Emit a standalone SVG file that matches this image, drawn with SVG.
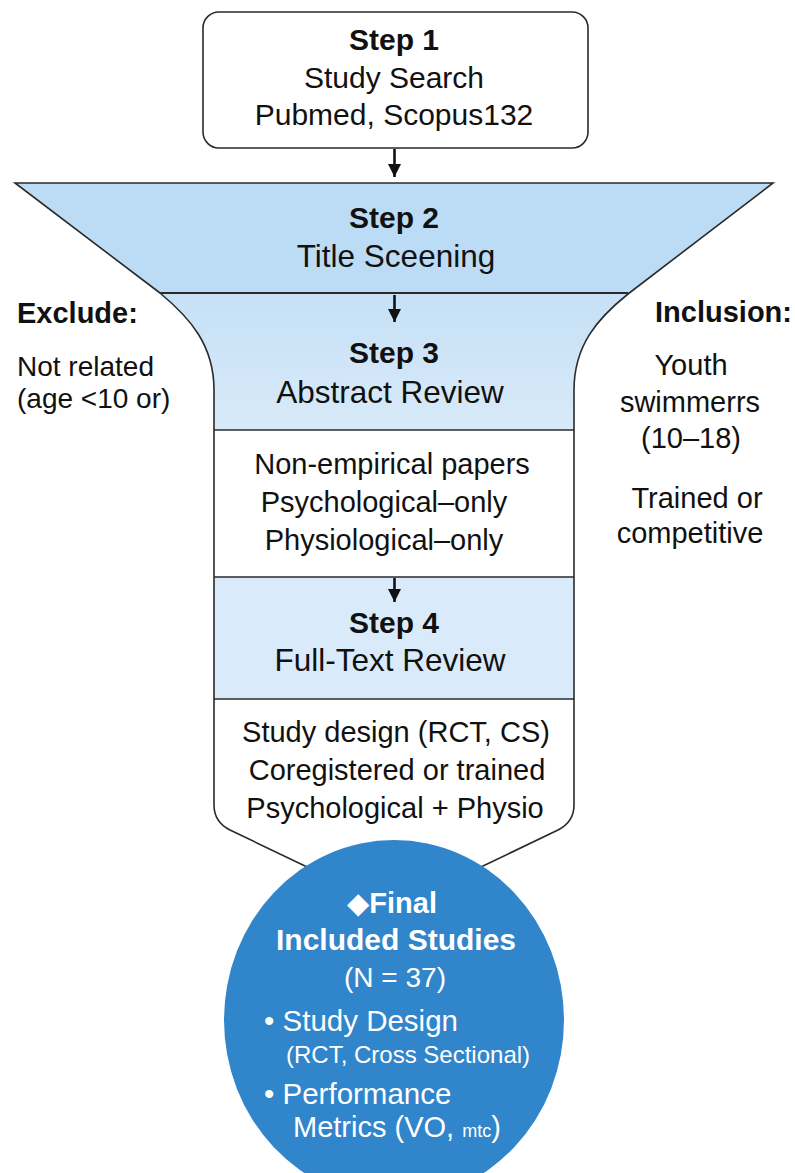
<svg xmlns="http://www.w3.org/2000/svg" xmlns:xlink="http://www.w3.org/1999/xlink" width="795" height="1173" viewBox="0 0 795 1173">
<defs>
<style>
.t{font-family:"Liberation Sans",Arial,"DejaVu Sans",sans-serif;fill:#111;}
.b{font-weight:bold;}
.c{text-anchor:middle;}
.e{text-anchor:end;}
.w{fill:#fff;}
.ln{stroke:#2a2a2a;stroke-width:1.6;fill:none;}
.conn{stroke:#111;stroke-width:2.6;fill:none;}
.s30{font-size:30px;}
.s31{font-size:31.5px;}
.s29{font-size:29px;}
</style>
<marker id="ah" markerWidth="14" markerHeight="13" refX="13" refY="6.5" orient="auto" markerUnits="userSpaceOnUse">
<path d="M0,0 L13,6.5 L0,13 Z" fill="#111"/>
</marker>
<linearGradient id="g3" x1="0" y1="0" x2="0" y2="1">
<stop offset="0" stop-color="#c6e0f6"/>
<stop offset="1" stop-color="#d8eaf9"/>
</linearGradient>
<path id="funnelPath" d="M15,183 L773,183 L628,294 C598,318 574,345 574,390 L574,805 Q574,822 558,830 L483,866 L394,900 L305,866 L230,830 Q214,822 214,805 L214,390 C214,345 190,318 160,293 Z"/>
<clipPath id="fc"><use xlink:href="#funnelPath" href="#funnelPath"/></clipPath>
</defs>
<rect x="0" y="0" width="795" height="1173" fill="#fff"/>

<g id="funnel">
<g clip-path="url(#fc)">
<rect x="0" y="183" width="795" height="110" fill="#bcdcf5"/>
<rect x="0" y="293" width="795" height="137" fill="url(#g3)"/>
<rect x="0" y="430" width="795" height="147" fill="#fff"/>
<rect x="0" y="577" width="795" height="122" fill="#d9ebfa"/>
<rect x="0" y="699" width="795" height="220" fill="#fff"/>
</g>
<line class="ln" x1="160" y1="293" x2="628" y2="293" style="stroke-width:2"/>
<line class="ln" x1="214" y1="430" x2="574" y2="430"/>
<line class="ln" x1="214" y1="577" x2="574" y2="577"/>
<line class="ln" x1="214" y1="699" x2="574" y2="699"/>
<use xlink:href="#funnelPath" href="#funnelPath" class="ln"/>
</g>

<g id="step1">
<rect x="203" y="12" width="385" height="136" rx="16" ry="16" fill="#fff" stroke="#2a2a2a" stroke-width="1.6"/>
<text class="t b c s30" x="394" y="50">Step 1</text>
<text class="t c s30" x="394" y="88">Study Search</text>
<text class="t c s30" x="394" y="125">Pubmed, Scopus132</text>
</g>

<g id="step2">
<text class="t b c s30" x="394" y="228">Step 2</text>
<text class="t c s31" x="396" y="267">Title Sceening</text>
</g>

<g id="step3">
<text class="t b c s30" x="394" y="363">Step 3</text>
<text class="t c s31" x="390" y="403">Abstract Review</text>
<text class="t c s29" x="392" y="474">Non-empirical papers</text>
<text class="t c s29" x="384" y="512">Psychological–only</text>
<text class="t c s29" x="384" y="550">Physiological–only</text>
</g>

<g id="step4">
<text class="t b c s30" x="394" y="633">Step 4</text>
<text class="t c s31" x="390" y="671">Full-Text Review</text>
<text class="t c s29" x="396" y="742">Study design (RCT, CS)</text>
<text class="t c s29" x="397" y="780">Coregistered or trained</text>
<text class="t c s29" x="395" y="818">Psychological + Physio</text>
</g>

<g id="exclude">
<text class="t b s29" x="17" y="323">Exclude:</text>
<text class="t" x="17" y="376" style="font-size:28px">Not related</text>
<text class="t" x="17" y="408" style="font-size:28px">(age &lt;10 or)</text>
</g>

<g id="inclusion">
<text class="t b e s29" x="792" y="322">Inclusion:</text>
<text class="t c s29" x="691" y="375">Youth</text>
<text class="t c s29" x="690" y="412">swimmerrs</text>
<text class="t c s29" x="691" y="448">(10–18)</text>
<text class="t c s29" x="697" y="508">Trained or</text>
<text class="t c s29" x="690" y="543">competitive</text>
</g>

<g id="final">
<ellipse cx="394" cy="1020" rx="170" ry="180" fill="#3185cb"/>
<text class="t b c w" x="392" y="913" style="font-size:29px">◆Final</text>
<text class="t b c w" x="396" y="950" style="font-size:30px">Included Studies</text>
<text class="t c w" x="395" y="987" style="font-size:28px">(N = 37)</text>
<text class="t w" x="264" y="1031" style="font-size:29.5px">• Study Design</text>
<text class="t w" x="286" y="1063" style="font-size:24px">(RCT, Cross Sectional)</text>
<text class="t w" x="264" y="1104" style="font-size:29.5px">• Performance</text>
<text class="t w" x="293" y="1137" style="font-size:29px">Metrics (VO, <tspan style="font-size:18px">mtc</tspan>)</text>
</g>

<g id="connectors">
<line class="conn" x1="394.5" y1="149" x2="394.5" y2="177" marker-end="url(#ah)"/>
<line class="conn" x1="394.5" y1="295" x2="394.5" y2="322" marker-end="url(#ah)"/>
<line class="conn" x1="394.5" y1="578" x2="394.5" y2="602" marker-end="url(#ah)"/>
</g>
</svg>
